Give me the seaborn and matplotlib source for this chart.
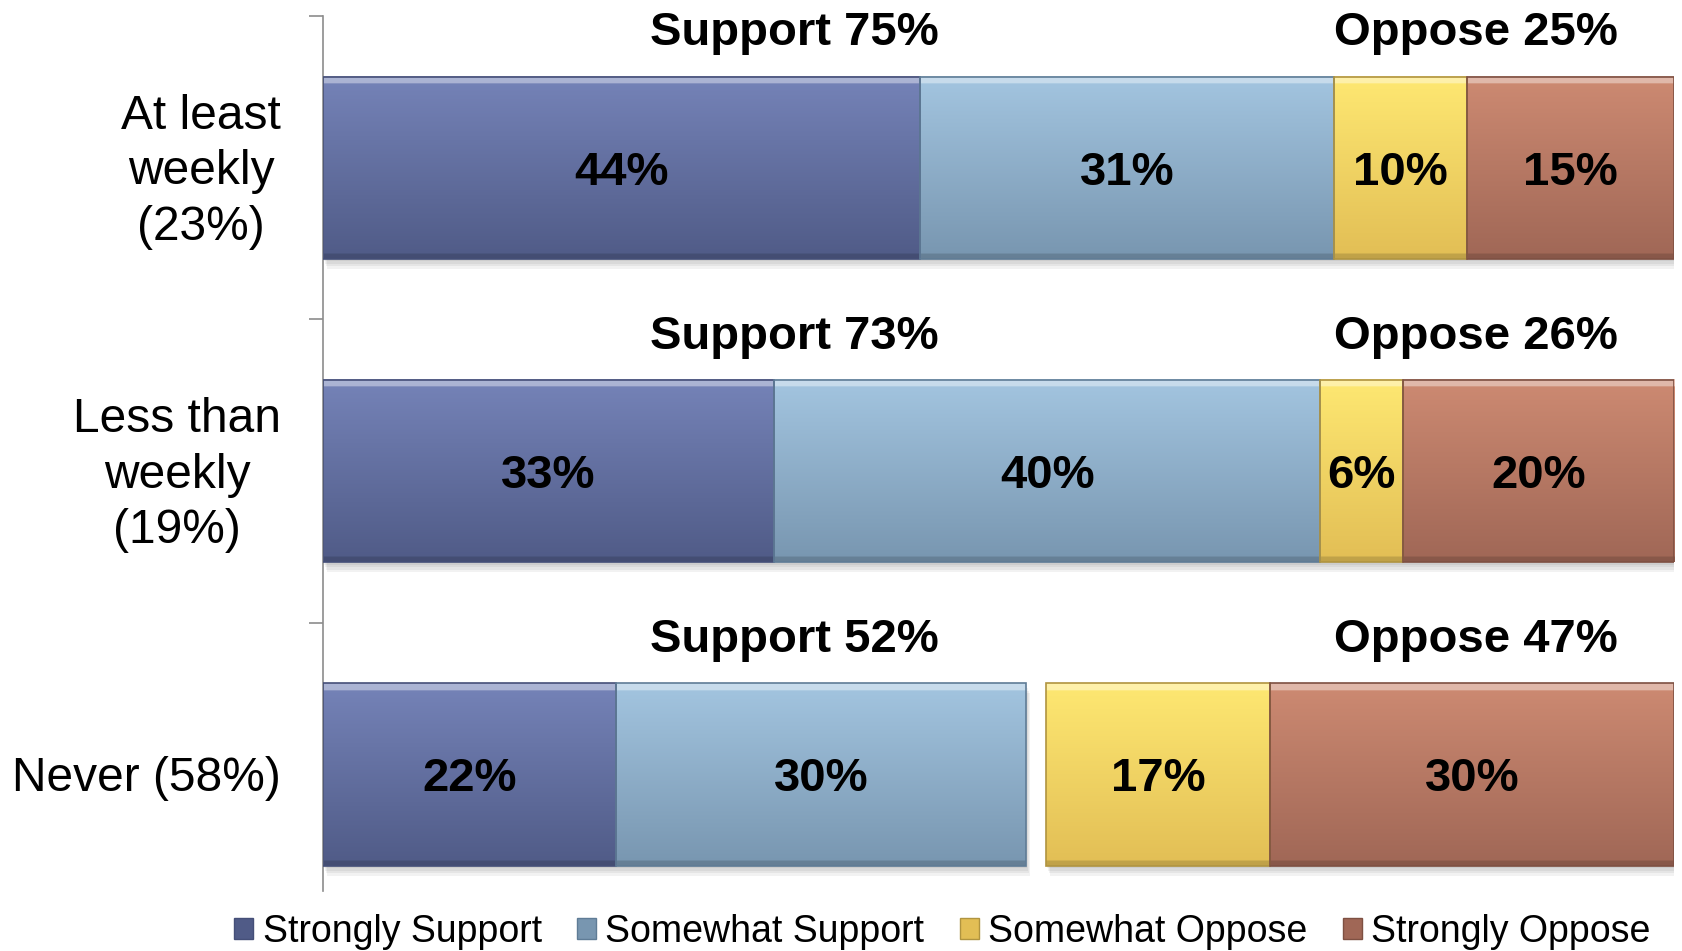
import numpy as np
import seaborn as sns
import matplotlib.pyplot as plt
from matplotlib.patches import Patch, Rectangle

# Dados (% por frequência de comparecimento)
categorias = ["At least\nweekly\n(23%)", "Less than\nweekly\n(19%)", "Never (58%)"]
strongly_support = [44.2, 33.4, 21.7]
somewhat_support = [30.6, 40.4, 30.3]
somewhat_oppose = [9.9, 6.1, 16.6]
strongly_oppose = [15.3, 20.1, 29.9]
support_total = [75, 73, 52]
oppose_total = [25, 26, 47]
series_names = ["Strongly Support", "Somewhat Support", "Somewhat Oppose", "Strongly Oppose"]

# cores (topo, base, borda) para o degradê de cada série
cores = [
    ("#7583b8", "#505b87", "#454f78"),
    ("#a3c5e0", "#7896b0", "#5f7c96"),
    ("#fee872", "#e2be55", "#b09440"),
    ("#cd8a72", "#a06756", "#7e5042"),
]

sns.set_theme(style="white")
plt.rcParams["font.family"] = ["Liberation Sans", "DejaVu Sans"]
plt.rcParams["text.color"] = "black"

fig = plt.figure(figsize=(16.83, 9.51), dpi=100)
ax = fig.add_axes([0.1919, 0.0631, 0.8028, 0.9201])

ss = np.array(strongly_support)
sws = np.array(somewhat_support)
swo = np.array(somewhat_oppose)
so = np.array(strongly_oppose)

lefts = [np.zeros(3), ss, 100 - so - swo, 100 - so]
valores = [ss, sws, swo, so]

for vals, lf, (c_top, c_bot, c_edge) in zip(valores, lefts, cores):
    sns.barplot(x=vals, y=categorias, left=lf, orient="h", width=0.6,
                color=c_bot, errorbar=None, ax=ax)

barras = list(ax.patches)

def grad(c_top, c_bot, n=200):
    t = np.linspace(0, 1, n)[:, None]
    a = np.array(plt.matplotlib.colors.to_rgb(c_top))
    b = np.array(plt.matplotlib.colors.to_rgb(c_bot))
    g = a * (1 - t) + b * t
    g[:8] = g[:8] * 0.6 + 0.4
    g[-6:] = g[-6:] * 0.85
    return g[:, None, :]

px_x = 100 / 1351
px_y = 2.884 / 875
for i, p in enumerate(barras):
    c_top, c_bot, c_edge = cores[i // 3]
    x0, y0, w, h = p.get_x(), p.get_y(), p.get_width(), p.get_height()
    # sombra
    for k in range(1, 5):
        ax.add_patch(Rectangle((x0 + k * px_x, y0 + k * 2.5 * px_y), w, h,
                               facecolor="black", alpha=0.05, lw=0, zorder=0.5))
    ax.imshow(grad(c_top, c_bot), extent=(x0, x0 + w, y0 + h, y0), origin="upper",
              aspect="auto", zorder=2, interpolation="bilinear")
    p.set_facecolor("none")
    p.set_edgecolor(c_edge)
    p.set_linewidth(1.2)
    p.set_zorder(3)

# rótulos dentro das barras
for vals, lf in zip(valores, lefts):
    for j in range(3):
        ax.text(lf[j] + vals[j] / 2, j, f"{round(vals[j])}%", ha="center",
                va="center_baseline", fontsize=34, fontweight="bold", color="black", zorder=4)

# totais acima das barras
for j in range(3):
    ax.text(34.9, j - 0.404, f"Support {support_total[j]}%", ha="center", va="baseline",
            fontsize=34, fontweight="bold", color="black")
    ax.text(85.3, j - 0.404, f"Oppose {oppose_total[j]}%", ha="center", va="baseline",
            fontsize=34, fontweight="bold", color="black")

ax.set_xlim(0, 100)
ax.set_ylim(2.384, -0.5)
ax.set_xticks([])
ax.set_xlabel("")
ax.set_ylabel("")

# rótulos das categorias (texto manual para controlar o alinhamento)
ax.set_yticks([0, 1, 2], ["", "", ""])
for j, cat in enumerate(categorias):
    ax.text(-0.031, j + 4 * px_y, cat, transform=ax.get_yaxis_transform(), ha="right",
            va="center", multialignment="center", linespacing=1.3, fontsize=34.5,
            color="black")
ax.set_yticks([-0.5, 0.5, 1.5], minor=True)
ax.tick_params(axis="y", which="major", length=0)
ax.tick_params(axis="y", which="minor", length=10, width=1.2, color="#8c8c8c", direction="out", left=True)

sns.despine(ax=ax, top=True, right=True, bottom=True)
ax.spines["left"].set_color("#8c8c8c")
ax.spines["left"].set_linewidth(1.2)

handles = [Patch(facecolor=c[1], edgecolor=c[2], lw=1) for c in cores]
leg = fig.legend(handles, series_names, loc="center", bbox_to_anchor=(0.560, 0.020), ncol=4,
                 frameon=False, fontsize=27, handlelength=0.5, handleheight=0.5,
                 handletextpad=0.25, columnspacing=0.95, borderpad=0, borderaxespad=0)
for t in leg.get_texts():
    t.set_color("black")

fig.savefig("out.png", dpi=100)
